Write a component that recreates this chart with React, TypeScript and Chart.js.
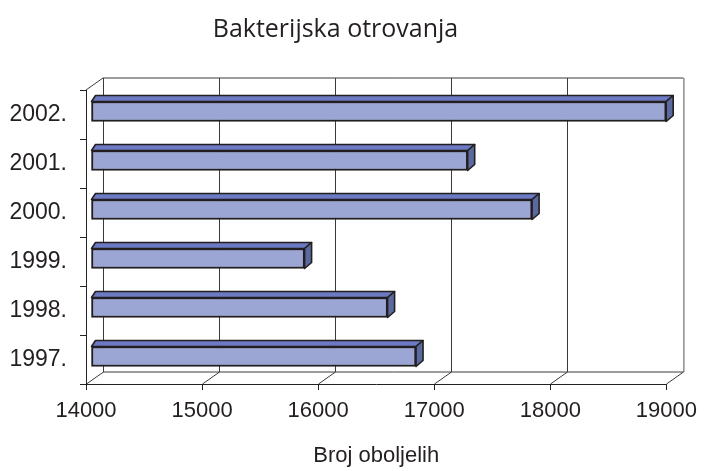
import React, { useEffect, useRef } from "react";
import { Chart, registerables } from "chart.js";

Chart.register(...registerables);

const years = ["1997.", "1998.", "1999.", "2000.", "2001.", "2002."];
const cases = [16800, 16555, 15840, 17800, 17245, 18955];
const xMin = 14000;
const xMax = 19000;
const xStep = 1000;

const chartTitle = "Bakterijska otrovanja";
const xTitle = "Broj oboljelih";

// 3D look
const WALL_DX = 17;
const WALL_DY = -12;
const BAR_OX = 5;
const BAR_OY = -3;
const TOP_DX_L = 4;
const TOP_DX_R = 7;
const TOP_DY = -6;

const FRONT = "#9ba6d4";
const TOPC = "#6b7ac2";
const SIDE = "#5a6a9e";
const EDGE = "#231f20";
const TEXT = "#231f20";

const threeD = {
  id: "threeD",
  beforeDraw(chart: any) {
    const { ctx, chartArea } = chart;
    const xs = chart.scales.x;
    const { top, bottom, left, right } = chartArea;
    ctx.save();
    ctx.lineWidth = 1;
    ctx.strokeStyle = "#3a3a3a";
    const line = (x1: number, y1: number, x2: number, y2: number) => {
      ctx.beginPath();
      ctx.moveTo(x1, y1);
      ctx.lineTo(x2, y2);
      ctx.stroke();
    };
    // back wall
    line(left + WALL_DX, top + WALL_DY, right + WALL_DX, top + WALL_DY);
    line(left + WALL_DX, bottom + WALL_DY, right + WALL_DX, bottom + WALL_DY);
    ctx.strokeStyle = "#555";
    line(right + WALL_DX + 0.5, top + WALL_DY, right + WALL_DX + 0.5, bottom + WALL_DY);
    ctx.strokeStyle = "#3a3a3a";
    // side wall top edge
    line(left, top, left + WALL_DX, top + WALL_DY);
    for (let v = xMin; v <= xMax; v += xStep) {
      const px = Math.round(xs.getPixelForValue(v)) + 0.5;
      if (v < xMax) line(px + WALL_DX, top + WALL_DY, px + WALL_DX, bottom + WALL_DY);
      line(px, bottom, px + WALL_DX, bottom + WALL_DY);
    }
    ctx.restore();
  },
  beforeDatasetsDraw(chart: any) {
    chart.ctx.save();
    chart.ctx.translate(BAR_OX, BAR_OY);
  },
  afterDatasetsDraw(chart: any) {
    const ctx = chart.ctx;
    ctx.restore();
    const meta = chart.getDatasetMeta(0);
    ctx.save();
    ctx.lineWidth = 1.6;
    ctx.lineJoin = "round";
    ctx.strokeStyle = EDGE;
    meta.data.forEach((el: any) => {
      const p = el.getProps(["x", "y", "base", "height"], true);
      const L = p.base + BAR_OX;
      const R = p.x + BAR_OX;
      const T = p.y - p.height / 2 + BAR_OY;
      const B = p.y + p.height / 2 + BAR_OY;
      // top face
      ctx.beginPath();
      ctx.moveTo(L, T);
      ctx.lineTo(L + TOP_DX_L, T + TOP_DY);
      ctx.lineTo(R + TOP_DX_R, T + TOP_DY);
      ctx.lineTo(R, T);
      ctx.closePath();
      ctx.fillStyle = TOPC;
      ctx.fill();
      ctx.stroke();
      // side face
      ctx.beginPath();
      ctx.moveTo(R, T);
      ctx.lineTo(R + TOP_DX_R, T + TOP_DY);
      ctx.lineTo(R + TOP_DX_R, B + TOP_DY);
      ctx.lineTo(R, B);
      ctx.closePath();
      ctx.fillStyle = SIDE;
      ctx.fill();
      ctx.stroke();
    });
    ctx.restore();
  },
};

export default function App() {
  const ref = useRef<HTMLCanvasElement>(null);
  useEffect(() => {
    document.body.style.margin = "0";
    if (!ref.current) return;
    const chart = new Chart(ref.current, {
      type: "bar",
      data: {
        labels: years,
        datasets: [
          {
            data: cases,
            base: xMin,
            backgroundColor: FRONT,
            borderColor: EDGE,
            borderWidth: 2,
            borderSkipped: false,
            barThickness: 20,
            clip: false as any,
          } as any,
        ],
      },
      options: {
        indexAxis: "y",
        animation: false,
        responsive: false,
        devicePixelRatio: 1,
        layout: { padding: { left: 0, right: 34, top: 0, bottom: 0 } },
        plugins: {
          legend: { display: false },
          tooltip: { enabled: false },
          title: {
            display: true,
            text: chartTitle,
            color: TEXT,
            font: { family: "'Open Sans'", size: 25, weight: "normal" },
            padding: { top: 15, bottom: 45 },
          },
        },
        scales: {
          x: {
            type: "linear",
            min: xMin,
            max: xMax,
            beginAtZero: false,
            ticks: {
              stepSize: xStep,
              color: TEXT,
              padding: 8,
              font: { family: "'Liberation Sans'", size: 22 },
              callback: (v: any) => String(v),
            },
            grid: { drawOnChartArea: false, drawTicks: true, tickLength: 6, color: "#222" },
            border: { display: true, color: "#222", width: 1 },
            title: {
              display: true,
              text: xTitle,
              color: TEXT,
              font: { family: "'Liberation Sans'", size: 22 },
              padding: { top: 0, bottom: 2 },
            },
            afterFit: (s: any) => {
              s.height = 87;
            },
          },
          y: {
            reverse: true,
            ticks: {
              color: TEXT,
              padding: 13,
              font: { family: "'Liberation Sans'", size: 23 },
            },
            grid: { drawOnChartArea: false, drawTicks: true, tickLength: 6, color: "#222", offset: true },
            border: { display: true, color: "#222", width: 1 },
            afterFit: (s: any) => {
              s.width = 86;
            },
          },
        },
      },
      plugins: [threeD],
    });
    return () => chart.destroy();
  }, []);
  return <canvas ref={ref} width={705} height={471} />;
}
